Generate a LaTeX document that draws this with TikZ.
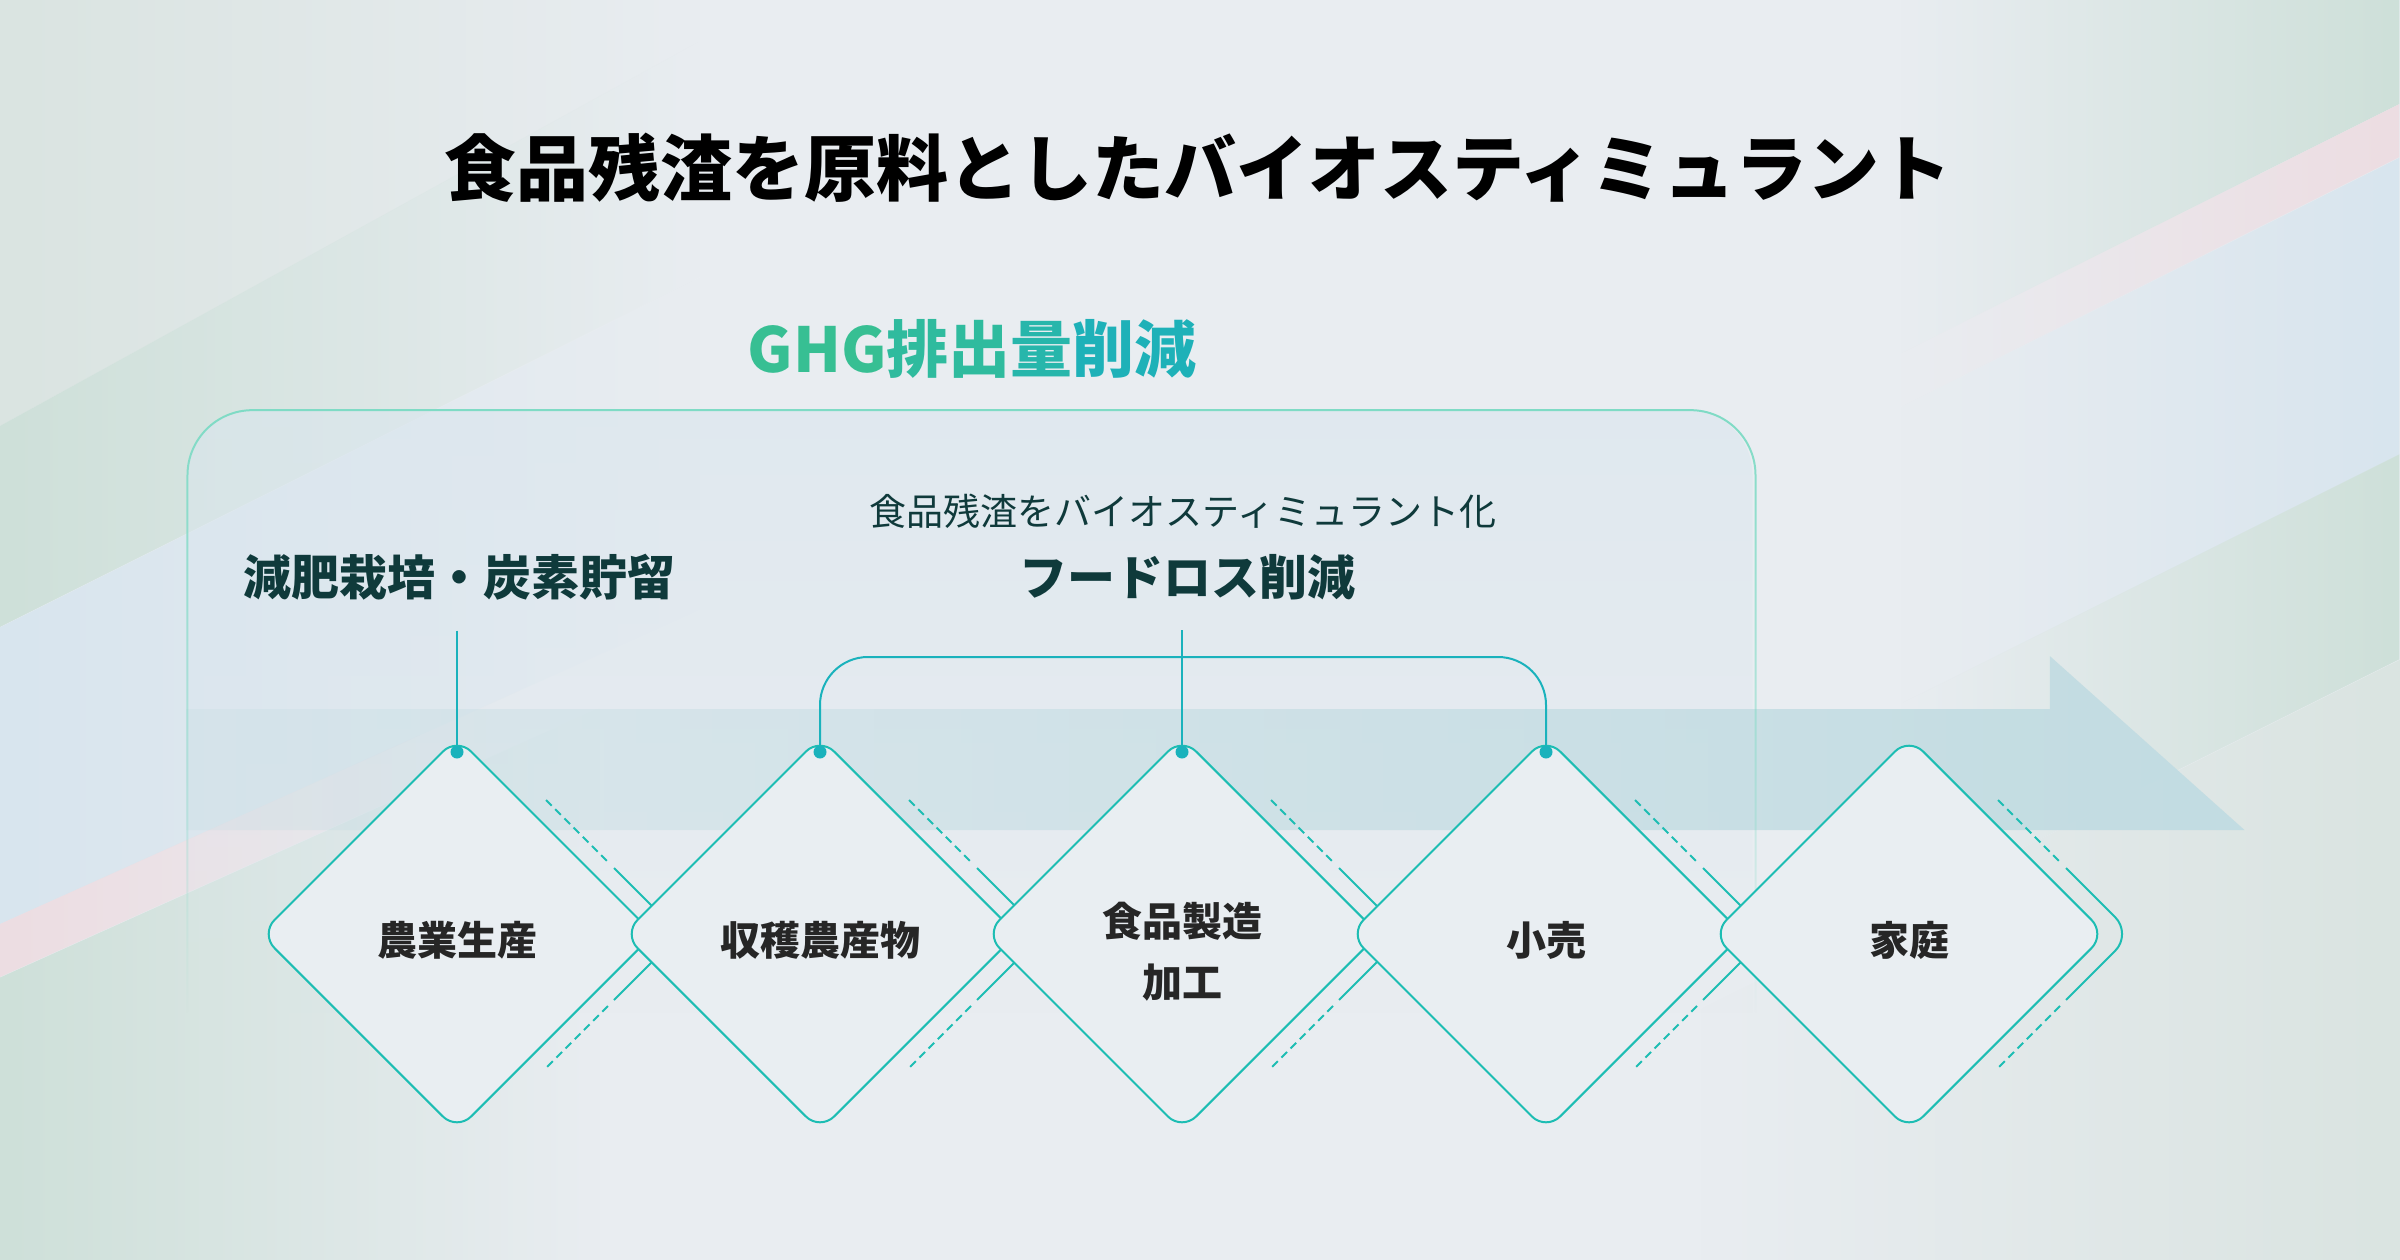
\documentclass[tikz,border=0pt]{standalone}
\usepackage{fontspec}
\setmainfont{Noto Sans CJK JP}
\usetikzlibrary{shapes.geometric,fadings,positioning}

\definecolor{bgbase}{HTML}{E9EDF1}
\definecolor{bggreen}{HTML}{CEE0D9}
\definecolor{bgblue}{HTML}{D8E5EE}
\definecolor{bgpink}{HTML}{EDDDE2}
\definecolor{bggrey}{HTML}{DAE4E1}
\definecolor{flowband}{HTML}{C2DCE2}
\definecolor{boxline}{HTML}{7FDBC5}
\definecolor{boxfill}{HTML}{DAE6EE}
\definecolor{lineteal}{HTML}{1DBDB3}
\definecolor{dotteal}{HTML}{1AB2BC}
\definecolor{labeldark}{HTML}{0F3A3B}
\definecolor{stepdark}{HTML}{262626}
\definecolor{diafill}{HTML}{E9EEF2}
\definecolor{ghgL}{HTML}{37BF93}
\definecolor{ghgR}{HTML}{19AFBE}

\tikzfading[name=fadeeast, left color=transparent!0, middle color=transparent!80, right color=transparent!100]
\tikzfading[name=fadewest, left color=transparent!100, middle color=transparent!70, right color=transparent!0]
\tikzfading[name=fadesouth, top color=transparent!0, middle color=transparent!15, bottom color=transparent!100]
\tikzfading[name=fadeband, left color=transparent!75, middle color=transparent!35, right color=transparent!0]

\begin{document}
\begin{tikzpicture}[x=1pt, y=-1pt,
  stepbox/.style={diamond, aspect=1, draw=lineteal, line width=2pt, fill=diafill,
    minimum width=394pt, minimum height=394pt, rounded corners=20pt, inner sep=0pt,
    font=\bfseries\fontsize{40}{61}\selectfont, text=stepdark, align=center,
    text height=46pt, text depth=4pt},
  sideline/.style={draw=lineteal, line width=2pt, rounded corners=24pt},
  sidedash/.style={draw=lineteal, line width=2pt, dash pattern=on 8pt off 5pt},
  keylabel/.style={font=\bfseries\fontsize{48}{56}\selectfont, text=labeldark},
  hookdot/.style={circle, fill=dotteal, minimum size=13pt, inner sep=0pt},
  link/.style={draw=dotteal, line width=2pt}]
\useasboundingbox (0,0) rectangle (2400,1260);
\fill[bgbase] (0,0) rectangle (2400,1260);

\fill[bggrey, path fading=fadeeast] (0,0) -- (700,0) -- (700,41) -- (0,426) -- cycle;
\fill[bggreen, path fading=fadeeast] (0,426) -- (700,41) -- (700,277) -- (0,627) -- cycle;
\fill[bgblue, path fading=fadeeast] (0,627) -- (700,277) -- (700,609) -- (0,924) -- cycle;
\fill[bgpink, path fading=fadeeast] (0,924) -- (520,690) -- (520,743) -- (0,977) -- cycle;
\fill[bggreen, path fading=fadeeast] (0,977) -- (600,707) -- (600,1260) -- (0,1260) -- cycle;

\fill[bggreen, path fading=fadewest] (2400,0) -- (1900,0) -- (1900,354) -- (2400,104) -- cycle;
\fill[bgpink, path fading=fadewest] (2400,104) -- (1900,354) -- (1900,407) -- (2400,157) -- cycle;
\fill[bgblue, path fading=fadewest] (2400,157) -- (1900,407) -- (1900,704) -- (2400,454) -- cycle;
\fill[bggreen, path fading=fadewest] (2400,454) -- (1900,704) -- (1900,909) -- (2400,659) -- cycle;
\fill[bggrey, path fading=fadewest] (2400,659) -- (1700,1009) -- (1700,1260) -- (2400,1260) -- cycle;

\path[fill=boxfill, fill opacity=0.6, path fading=fadesouth] (188,1013) [rounded corners=65pt] -- (188,410) -- (1757,410) -- (1757,1013);
\fill[flowband, path fading=fadeband] (188,709) -- (2055,709) -- (2055,656) -- (2250,830) -- (188,830) -- cycle;
\draw[boxline, line width=2pt, path fading=fadesouth] (188,1013) [rounded corners=65pt] -- (188,410) -- (1757,410) -- (1757,1013);

\node[font=\bfseries\fontsize{72}{80}\selectfont, text=black] (title) at (1198,168) {食品残渣を原料としたバイオスティミュラント};
\node[font=\bfseries\fontsize{62}{70}\selectfont] (ghg) at (972,349) {\textcolor{ghgL}{GHG}\textcolor{ghgL!75!ghgR}{排出}\textcolor{ghgL!45!ghgR}{量}\textcolor{ghgL!15!ghgR}{削減}};

\node[keylabel] (cut) at (459,577) {減肥栽培・炭素貯留};
\node[font=\fontsize{37}{44}\selectfont, text=labeldark] (sub) at (1183,511) {食品残渣をバイオスティミュラント化};
\node[keylabel] (loss) at (1187,577) {フードロス削減};

\node[stepbox] (d1) at (457,934) {農業生産};
\draw[sidedash] ([shift={(89,-134)}]d1.center) -- ([shift={(151,-72)}]d1.center) ([shift={(151,72)}]d1.center) -- ([shift={(89,134)}]d1.center);
\draw[sideline] ([shift={(157,-66)}]d1.center) -- ([shift={(223,0)}]d1.center) -- ([shift={(157,66)}]d1.center);
\node[stepbox] (d2) at (820,934) {収穫農産物};
\draw[sidedash] ([shift={(89,-134)}]d2.center) -- ([shift={(151,-72)}]d2.center) ([shift={(151,72)}]d2.center) -- ([shift={(89,134)}]d2.center);
\draw[sideline] ([shift={(157,-66)}]d2.center) -- ([shift={(223,0)}]d2.center) -- ([shift={(157,66)}]d2.center);
\node[stepbox, text height=130pt, text depth=4pt] (d3) at (1182,934) {食品製造\\加工};
\draw[sidedash] ([shift={(89,-134)}]d3.center) -- ([shift={(151,-72)}]d3.center) ([shift={(151,72)}]d3.center) -- ([shift={(89,134)}]d3.center);
\draw[sideline] ([shift={(157,-66)}]d3.center) -- ([shift={(223,0)}]d3.center) -- ([shift={(157,66)}]d3.center);
\node[stepbox] (d4) at (1546,934) {小売};
\draw[sidedash] ([shift={(89,-134)}]d4.center) -- ([shift={(151,-72)}]d4.center) ([shift={(151,72)}]d4.center) -- ([shift={(89,134)}]d4.center);
\draw[sideline] ([shift={(157,-66)}]d4.center) -- ([shift={(223,0)}]d4.center) -- ([shift={(157,66)}]d4.center);
\node[stepbox] (d5) at (1909,934) {家庭};
\draw[sidedash] ([shift={(89,-134)}]d5.center) -- ([shift={(151,-72)}]d5.center) ([shift={(151,72)}]d5.center) -- ([shift={(89,134)}]d5.center);
\draw[sideline] ([shift={(157,-66)}]d5.center) -- ([shift={(223,0)}]d5.center) -- ([shift={(157,66)}]d5.center);

\node[hookdot] (h1) at ([yshift=-16pt]d1.north) {};
\node[hookdot] (h2) at ([yshift=-16pt]d2.north) {};
\node[hookdot] (h3) at ([yshift=-16pt]d3.north) {};
\node[hookdot] (h4) at ([yshift=-16pt]d4.north) {};
\draw[link, shorten <=27pt] (cut.south -| h1) -- (h1);
\draw[link, shorten <=27pt] (loss.south -| h3) -- (h3);
\draw[link, rounded corners=48pt] (h2) -- ++(0,-95) -| (h4);
\end{tikzpicture}
\end{document}
